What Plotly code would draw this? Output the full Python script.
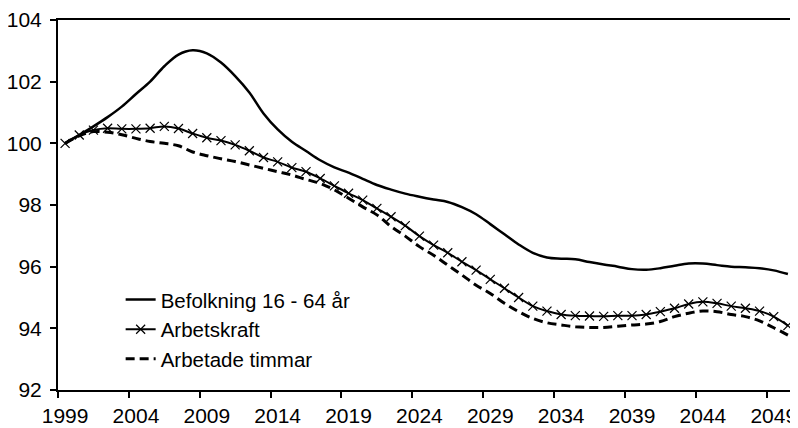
import plotly.graph_objects as go

years = list(range(1999, 2051))

befolkning = [100.0, 100.27, 100.55, 100.85, 101.19, 101.6, 102.0, 102.5, 102.88, 103.02,
              102.92, 102.62, 102.18, 101.65, 100.97, 100.45, 100.05, 99.75, 99.45, 99.22,
              99.05, 98.85, 98.65, 98.5, 98.37, 98.27, 98.18, 98.1, 97.93, 97.7,
              97.38, 97.05, 96.72, 96.45, 96.3, 96.26, 96.24, 96.15, 96.07, 96.0,
              95.92, 95.9, 95.95, 96.03, 96.1, 96.1, 96.05, 96.0, 95.98, 95.95,
              95.88, 95.76]

arbetskraft = [100.0, 100.27, 100.43, 100.49, 100.47, 100.47, 100.49, 100.55, 100.48, 100.32,
               100.18, 100.09, 99.95, 99.76, 99.54, 99.4, 99.21, 99.08, 98.86, 98.62,
               98.38, 98.16, 97.89, 97.62, 97.33, 96.99, 96.7, 96.45, 96.16, 95.89,
               95.59, 95.3, 95.0, 94.72, 94.56, 94.45, 94.41, 94.4, 94.39, 94.41,
               94.41, 94.45, 94.54, 94.65, 94.79, 94.86, 94.81, 94.72, 94.65, 94.56,
               94.38, 94.09]

timmar = [100.0, 100.24, 100.38, 100.36, 100.28, 100.16, 100.06, 100.0, 99.92, 99.72,
          99.6, 99.5, 99.41, 99.3, 99.19, 99.08, 98.97, 98.83, 98.7, 98.49,
          98.22, 97.94, 97.68, 97.3, 96.99, 96.65, 96.37, 96.05, 95.73, 95.4,
          95.13, 94.81, 94.54, 94.32, 94.18, 94.11, 94.05, 94.03, 94.03, 94.07,
          94.11, 94.14, 94.22, 94.38, 94.49, 94.56, 94.54, 94.45, 94.38, 94.24,
          94.02, 93.78]

x_label_vals = list(range(1999, 2050, 5))
x_tick_bounds = [v - 0.5 for v in x_label_vals]
y_ticks = [92, 94, 96, 98, 100, 102, 104]

FONT = "Liberation Sans, Arial, sans-serif"

fig = go.Figure()
fig.add_trace(go.Scatter(x=years, y=befolkning, mode="lines", name="Befolkning 16 - 64 år",
                         line=dict(color="black", width=2.5), line_shape="spline"))
fig.add_trace(go.Scatter(x=years, y=arbetskraft, mode="lines+markers", name="Arbetskraft",
                         line=dict(color="black", width=2), line_shape="spline",
                         marker=dict(symbol="x-thin", size=9, line=dict(color="black", width=1.2))))
fig.add_trace(go.Scatter(x=years, y=timmar, mode="lines", name="Arbetade timmar",
                         line=dict(color="black", width=3, dash="9px,5px"), line_shape="spline"))

# the page body adds an 8px margin, so the figure is 8px smaller and margins are shifted
fig.update_layout(
    width=790, height=420,
    margin=dict(l=50, r=3, t=12, b=38, autoexpand=False),
    paper_bgcolor="white", plot_bgcolor="white",
    font=dict(family=FONT, size=21, color="black"),
    showlegend=True,
    legend=dict(x=0.085, y=0.298, xanchor="left", yanchor="top", bgcolor="rgba(0,0,0,0)",
                font=dict(size=20.5), tracegroupgap=0),
    xaxis=dict(range=[1998.5, 2050.5], tickmode="array", tickvals=x_label_vals,
               ticktext=[str(v) for v in x_label_vals], ticks="", showgrid=False,
               zeroline=False, showline=True, linecolor="black", linewidth=2, mirror=True,
               ticklabelstandoff=6, automargin=False,
               minor=dict(tickmode="array", tickvals=x_tick_bounds, ticks="outside",
                          ticklen=6, tickwidth=1.5, tickcolor="black", showgrid=False)),
    yaxis=dict(range=[92, 104], tickmode="array", tickvals=y_ticks, ticks="outside",
               ticklen=6, tickwidth=1.5, tickcolor="black", showgrid=False, zeroline=False,
               showline=True, linecolor="black", linewidth=2, mirror=True,
               ticklabelstandoff=4, automargin=False),
)

fig.write_html("out.html")
